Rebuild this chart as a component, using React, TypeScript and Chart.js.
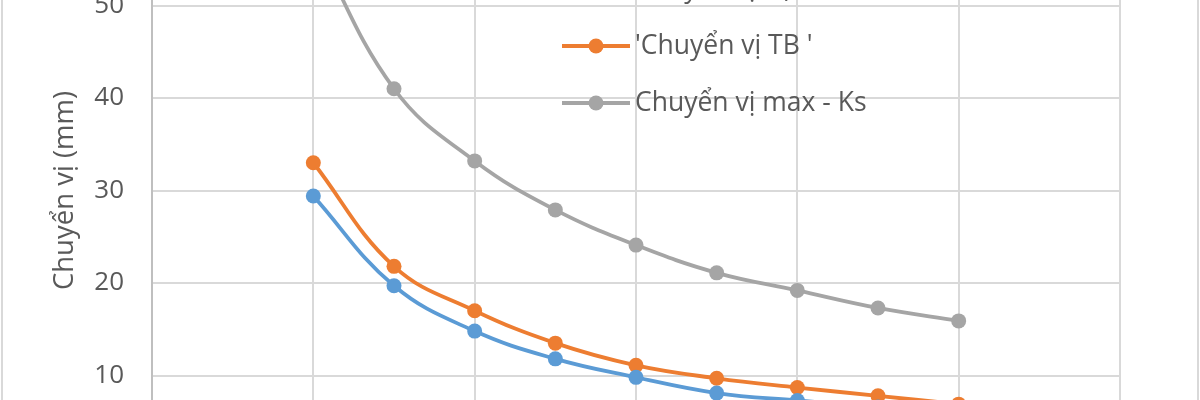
import React, { useEffect, useRef } from "react";
import { Chart, registerables } from "chart.js";

Chart.register(...registerables);

// ---- data ----
const xValues = [2, 3, 4, 5, 6, 7, 8, 9, 10];
const seriesLabels = ["Chuyển vị dự tính", "'Chuyển vị TB '", "Chuyển vị max - Ks"];
const blueValues = [29.4, 19.7, 14.8, 11.8, 9.8, 8.1, 7.3, 6.6, 6.0];
const orangeValues = [33.0, 21.8, 17.0, 13.5, 11.1, 9.7, 8.7, 7.8, 6.9];
const grayValues = [57.0, 41.0, 33.2, 27.9, 24.1, 21.1, 19.2, 17.3, 15.9];
const yAxisTitle = "Chuyển vị (mm)";
const xTickValues = [0, 2, 4, 6, 8, 10, 12];
const yTickValues = [0, 10, 20, 30, 40, 50, 60];

// ---- styles ----
const COLORS = ["#5B9BD5", "#ED7D31", "#A5A5A5"];
const FONT_FAMILY = "'Open Sans', 'Noto Sans', sans-serif";
const TEXT_COLOR = "#595959";
const GRID_COLOR = "#d9d9d9";
const CANVAS_W = 1200;
const CANVAS_H = 668;
const OFFSET_TOP = 140;

const legendPlugin = {
  id: "excelLegend",
  afterDraw(chart: any) {
    const ctx = chart.ctx;
    const x0 = 562;
    const x1 = 630;
    const y0 = OFFSET_TOP - 11;
    const dy = 57;
    chart.data.datasets.forEach((ds: any, i: number) => {
      const y = y0 + i * dy;
      ctx.save();
      ctx.strokeStyle = ds.borderColor;
      ctx.lineWidth = 3.8;
      ctx.beginPath();
      ctx.moveTo(x0, y);
      ctx.lineTo(x1, y);
      ctx.stroke();
      ctx.fillStyle = ds.backgroundColor;
      ctx.beginPath();
      ctx.arc((x0 + x1) / 2, y, 7.5, 0, Math.PI * 2);
      ctx.fill();
      ctx.fillStyle = TEXT_COLOR;
      ctx.font = `26.5px ${FONT_FAMILY}`;
      ctx.textBaseline = "middle";
      ctx.textAlign = "left";
      ctx.fillText(ds.label, 635, y);
      ctx.restore();
    });
  },
};

const borderPlugin = {
  id: "outerBorder",
  beforeDraw(chart: any) {
    const ctx = chart.ctx;
    ctx.save();
    ctx.fillStyle = "#ffffff";
    ctx.fillRect(0, 0, chart.width, chart.height);
    ctx.strokeStyle = GRID_COLOR;
    ctx.lineWidth = 2;
    ctx.strokeRect(2, 2, chart.width - 4, chart.height - 4);
    ctx.restore();
  },
};

export default function App() {
  const canvasRef = useRef<HTMLCanvasElement | null>(null);

  useEffect(() => {
    if (!canvasRef.current) return;
    const series = [blueValues, orangeValues, grayValues];
    const chart = new Chart(canvasRef.current, {
      type: "line",
      data: {
        datasets: series.map((vals, i) => ({
          label: seriesLabels[i],
          data: xValues.map((x, j) => ({ x, y: vals[j] })),
          borderColor: COLORS[i],
          backgroundColor: COLORS[i],
          pointBackgroundColor: COLORS[i],
          pointBorderColor: COLORS[i],
          borderWidth: 3.8,
          pointRadius: 7.5,
          pointBorderWidth: 0,
          tension: 0.4,
          fill: false,
        })),
      },
      options: {
        responsive: false,
        animation: false,
        layout: { padding: { top: OFFSET_TOP - 87, right: 80, left: 0, bottom: 0 } },
        plugins: { legend: { display: false }, tooltip: { enabled: false } },
        scales: {
          x: {
            type: "linear",
            min: xTickValues[0],
            max: xTickValues[xTickValues.length - 1],
            afterBuildTicks: (s: any) => {
              s.ticks = xTickValues.map((v) => ({ value: v }));
            },
            ticks: { color: TEXT_COLOR, font: { family: FONT_FAMILY, size: 26 }, padding: 10 },
            grid: { color: GRID_COLOR, lineWidth: 2, drawTicks: false },
            border: { color: "#bfbfbf", width: 2 },
            afterFit: (s: any) => {
              s.height = 60;
            },
          },
          y: {
            min: yTickValues[0],
            max: yTickValues[yTickValues.length - 1],
            afterBuildTicks: (s: any) => {
              s.ticks = yTickValues.map((v) => ({ value: v }));
            },
            ticks: { color: TEXT_COLOR, font: { family: FONT_FAMILY, size: 26 }, padding: 28 },
            grid: { color: GRID_COLOR, lineWidth: 2, drawTicks: false },
            border: { color: "#bfbfbf", width: 2 },
            title: {
              display: true,
              text: yAxisTitle,
              color: TEXT_COLOR,
              font: { family: FONT_FAMILY, size: 27.5 },
              padding: { top: 49, bottom: 0 },
            },
            afterFit: (s: any) => {
              s.width = 152;
            },
          },
        },
      },
      plugins: [borderPlugin, legendPlugin],
    });
    return () => chart.destroy();
  }, []);

  return (
    <div
      style={{
        position: "fixed",
        left: 0,
        top: -OFFSET_TOP,
        width: CANVAS_W,
        height: CANVAS_H,
      }}
    >
      <canvas
        ref={canvasRef}
        width={CANVAS_W}
        height={CANVAS_H}
        style={{ width: CANVAS_W, height: CANVAS_H, display: "block" }}
      />
    </div>
  );
}
